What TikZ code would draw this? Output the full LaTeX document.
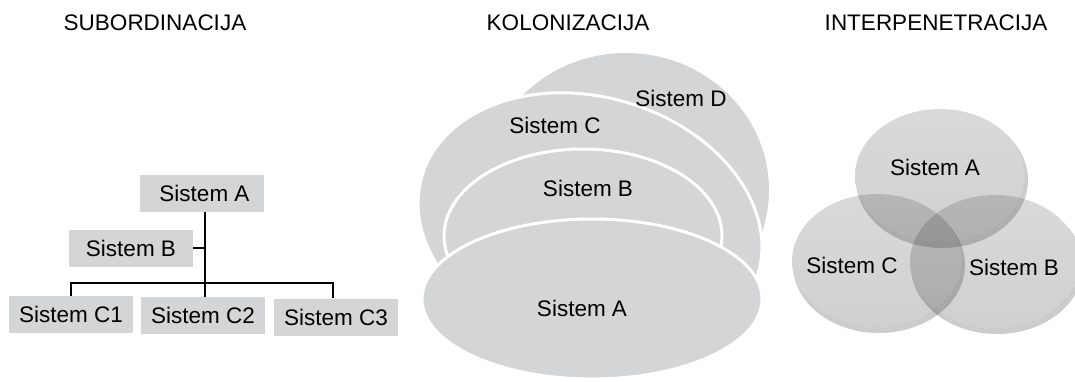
\documentclass[tikz,border=0pt]{standalone}
\usepackage{fontspec}
\setmainfont{Liberation Sans}
\definecolor{boxgray}{HTML}{D4D5D7}
\definecolor{ctop}{gray}{0.22}
\definecolor{cbot}{gray}{0.02}

\begin{document}
\begin{tikzpicture}[x=1pt, y=-1pt,
    txt/.style={font=\fontsize{22.5}{26}\selectfont, inner sep=0pt},
    box/.style={txt, fill=boxgray, minimum width=124pt, minimum height=37pt},
    link/.style={draw=black, line width=1.4pt},
    blob/.style={fill=boxgray, draw=white, line width=3pt}]
          \useasboundingbox (0,0) rectangle (1075,381);

          % titles
          \node[txt](t1) at (155,23)  {SUBORDINACIJA};
          \node[txt](t2) at (568,23)  {KOLONIZACIJA};
          \node[txt](t3) at (936,23)  {INTERPENETRACIJA};

          % subordinacija
          \node[box](sA)  at (202,193)   {\hspace{5pt}Sistem A};
          \node[box](sB)  at (131,248)   {Sistem B\hspace{10pt}};
          \node[box](sC1) at (71,314.5)  {Sistem C1};
          \node[box](sC2) at (203,315.5) {Sistem C2};
          \node[box](sC3) at (336,317)   {Sistem C3};
          \coordinate (j) at (205,283);
          \path[link]
            (sA.south -| j) edge (sC2.north -| j)
            (sB.east) edge (sB.east -| j);
          \draw[link] (sC1.north) |- (j) -| ([xshift=-3pt]sC3.north);

          % kolonizacija
          \fill[boxgray] (626,190) ellipse [x radius=143, y radius=137];
          \begin{scope}[shift={(590,225)}, rotate=-16]
            \path[blob] (0,0) ellipse [x radius=175, y radius=128];
          \end{scope}
          \path[blob] (583,236) ellipse [x radius=139, y radius=87];
          \path[blob] (592,299) ellipse [x radius=170, y radius=80];
          \node[txt](kD) at (681,98)  {Sistem D};
          \node[txt](kC) at (555,125) {Sistem C};
          \node[txt](kB) at (588,188) {Sistem B};
          \node[txt](kA) at (582,308) {Sistem A};

          % interpenetracija
          \foreach \cx/\cy in {940/176, 877/261, 995/262} {
            \begin{scope}[even odd rule]
              \clip (760,80) rectangle (1075,381)
                (\cx,\cy) ellipse [x radius=85, y radius=67];
              \fill[black, opacity=0.2] (\cx+2,\cy+4) ellipse [x radius=86, y radius=68];
            \end{scope}
            \shade[top color=ctop, bottom color=cbot, fill opacity=0.19]
              (\cx,\cy) ellipse [x radius=85, y radius=67];
          }
          \node[txt](iA) at (935,167)  {Sistem A};
          \node[txt](iC) at (852,265)  {Sistem C};
          \node[txt](iB) at (1014,267) {Sistem B};
\end{tikzpicture}
\end{document}
